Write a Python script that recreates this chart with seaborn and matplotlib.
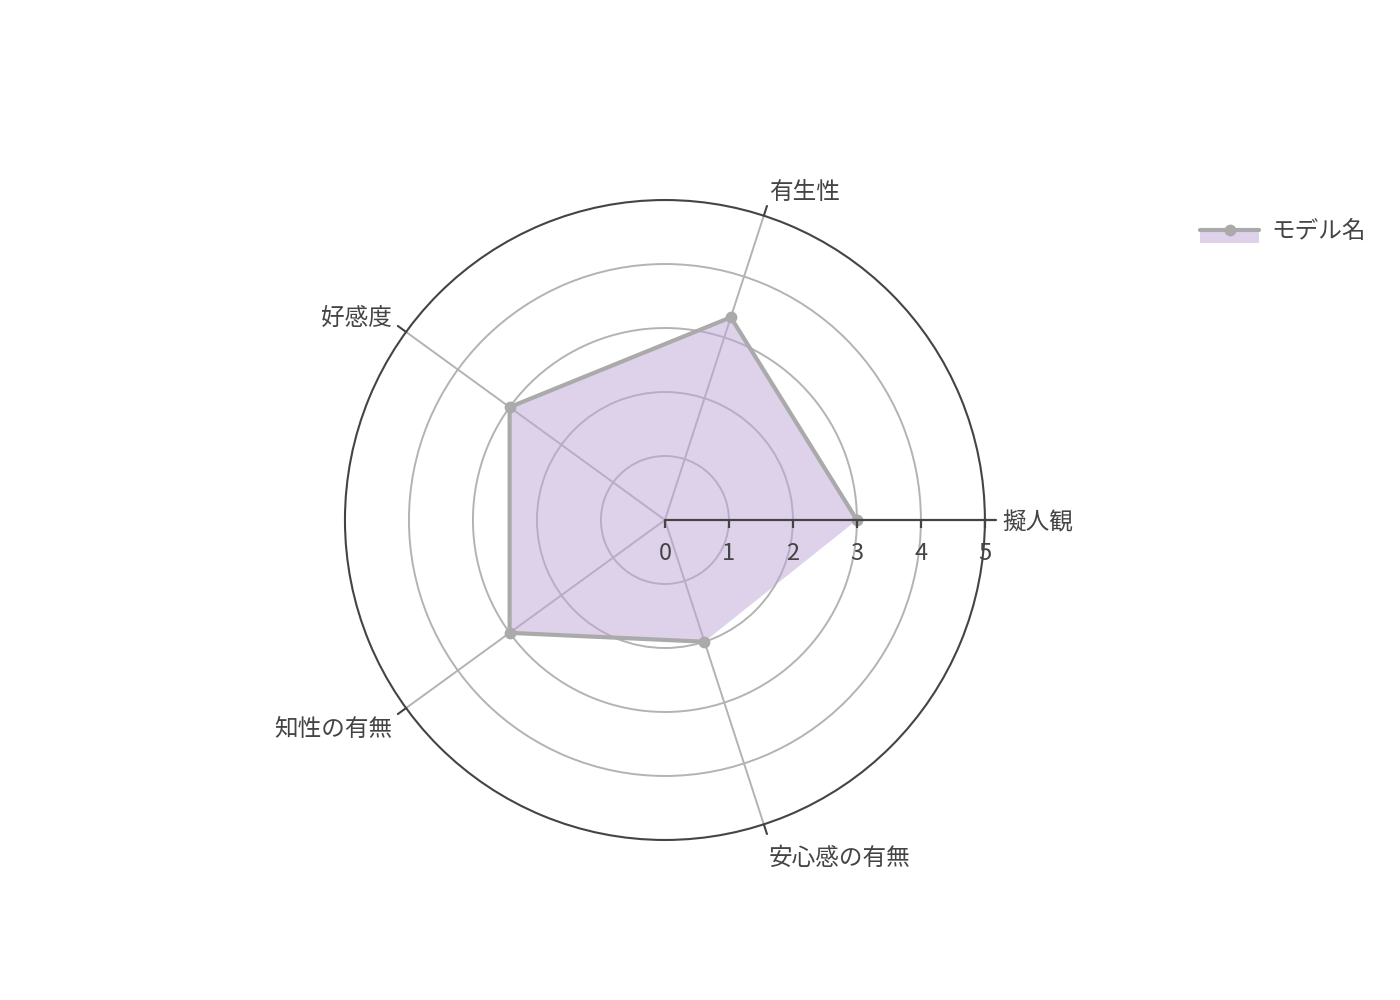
import numpy as np
import matplotlib.pyplot as plt
import seaborn as sns
from matplotlib.patches import Rectangle
from matplotlib.lines import Line2D

# chart data
categories = ['擬人観', '有生性', '好感度', '知性の有無', '安心感の有無']
scores = [3, 3.33, 3, 3, 2]
radial_ticks = [0, 1, 2, 3, 4, 5]
series_name = 'モデル名'

line_color = '#aaaaaa'
fill_color = '#bfa6d9'
axis_color = '#444444'
grid_color = '#b3b3b3'

sns.set_theme(style='white')
plt.rcParams['font.family'] = ['Noto Sans CJK JP', 'DejaVu Sans']

angles = np.deg2rad(np.arange(len(categories)) * 360 / len(categories))

fig = plt.figure(figsize=(14, 10), dpi=100)
ax = fig.add_axes([0.2464, 0.16, 0.4571, 0.64], projection='polar')
ax.set_ylim(0, 5)

# grid
ax.set_xticks(angles)
ax.set_xticklabels([])
ax.set_yticks(radial_ticks[1:-1])
ax.set_yticklabels([])
ax.grid(True, color=grid_color, linewidth=1.4)
ax.spines['polar'].set_color(axis_color)
ax.spines['polar'].set_linewidth(1.5)

# outer angular ticks
for a in angles:
    ax.plot([a, a], [5, 5.16], color=axis_color, linewidth=1.5, clip_on=False, zorder=5)

# filled area + open line
ax.fill(angles, scores, color=fill_color, alpha=0.5, zorder=3, linewidth=0)
sns.lineplot(x=angles, y=scores, ax=ax, sort=False, color=line_color, linewidth=3,
             marker='o', markersize=8.5, markeredgewidth=0, zorder=4, legend=False)

# radial axis with ticks and labels
ax.plot([0, 0], [0, 5.17], color=axis_color, linewidth=1.6, clip_on=False, zorder=5)
ax.plot(np.zeros(len(radial_ticks)), radial_ticks, linestyle='none', marker=3,
        markersize=6, markeredgewidth=1.6, color=axis_color, clip_on=False, zorder=5)
for t in radial_ticks:
    ax.annotate(str(t), xy=(0, t), xytext=(0, -24.4), textcoords='offset points',
                ha='center', va='center', fontsize=17, color=axis_color,
                annotation_clip=False)

# category labels
for a, lab in zip(angles, categories):
    c, s = np.cos(a), np.sin(a)
    ha = 'left' if c > 0.1 else ('right' if c < -0.1 else 'center')
    dx = 17 * c * 0.72
    dy = (30 * s - 3 * abs(s) - 2.5) * 0.72
    ax.annotate(lab, xy=(a, 5), xytext=(dx, dy), textcoords='offset points',
                ha=ha, va='center', fontsize=17, color=axis_color, annotation_clip=False)


class FillLineHandler:
    def legend_artist(self, legend, orig_handle, fontsize, handlebox):
        x0, y0 = handlebox.xdescent, handlebox.ydescent
        w, h = handlebox.width, handlebox.height
        rect = Rectangle((x0, y0 - h * 0.25), w, h * 0.75, facecolor=fill_color, alpha=0.5,
                         edgecolor='none', transform=handlebox.get_transform())
        ln = Line2D([x0, x0 + w], [y0 + h * 0.5, y0 + h * 0.5], color=line_color,
                    linewidth=3, transform=handlebox.get_transform())
        mk = Line2D([x0 + w / 2], [y0 + h * 0.5], marker='o', markersize=8.5,
                    markeredgewidth=0, color=line_color, transform=handlebox.get_transform())
        handlebox.add_artist(rect)
        handlebox.add_artist(ln)
        handlebox.add_artist(mk)
        return rect


proxy = Rectangle((0, 0), 1, 1)
leg = fig.legend([proxy], [series_name], handler_map={Rectangle: FillLineHandler()},
                 loc='upper left', bbox_to_anchor=(0.8505, 0.789), frameon=False,
                 fontsize=17, handlelength=2.5, handletextpad=0.5, borderaxespad=0)
for txt in leg.get_texts():
    txt.set_color(axis_color)

fig.savefig('out.png', dpi=100)
